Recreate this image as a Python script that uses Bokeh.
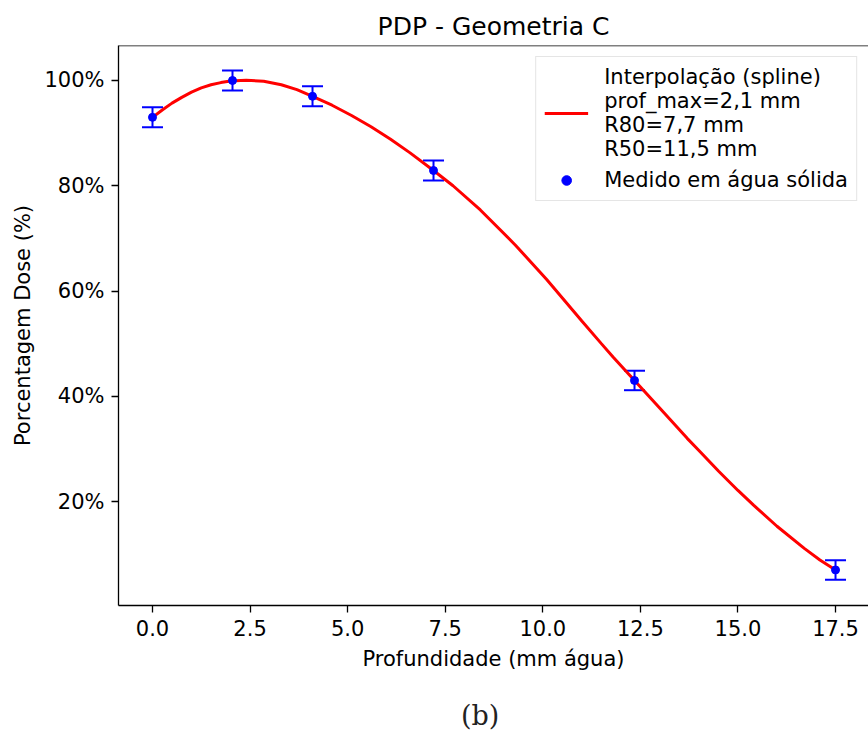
from bokeh.plotting import figure
from bokeh.layouts import column
from bokeh.models import (ColumnDataSource, Whisker, TeeHead, FixedTicker, Span, Div,
                          NumeralTickFormatter, Legend, LegendItem, Range1d)
from bokeh.embed import file_html
from bokeh.resources import INLINE

# measured points
depth_mm = [0.0, 2.05, 4.1, 7.2, 12.35, 17.5]
dose_pct = [93.0, 100.0, 97.0, 82.9, 43.0, 7.0]
dose_err = [1.9, 1.9, 1.9, 1.9, 1.85, 1.85]

# spline curve
curve_x = [0.0, 0.25, 0.5, 0.75, 1.0, 1.25, 1.5, 1.75, 2.0, 2.4, 2.85, 3.3, 3.7, 4.1,
           4.6, 5.1, 5.6, 6.1, 6.6, 7.2, 7.7, 8.4, 9.3, 10.1, 11.0, 11.5, 11.8, 12.35,
           13.0, 13.7, 14.0, 14.5, 15.0, 15.4, 16.0, 16.7, 17.1, 17.5]
curve_y = [93.0, 94.4, 95.7, 96.8, 97.8, 98.6, 99.2, 99.6, 99.9, 100.05, 99.84, 99.2, 98.27, 97.0,
           95.3, 93.35, 91.2, 88.85, 86.25, 82.9, 80.0, 75.4, 68.7, 62.2, 54.3, 50.0, 47.45, 43.0,
           37.7, 32.0, 29.7, 25.8, 22.1, 19.3, 15.3, 11.1, 8.9, 7.0]

x_ticks = [0.0, 2.5, 5.0, 7.5, 10.0, 12.5, 15.0, 17.5]
y_ticks = [20, 40, 60, 80, 100]
y_tick_labels = ["20%", "40%", "60%", "80%", "100%"]

FONT = "DejaVu Sans"
Y_TOP = 106.65

p = figure(width=868, height=697, output_backend="svg", toolbar_location=None,
           x_range=Range1d(-0.871, 18.345), y_range=Range1d(0.24, Y_TOP),
           min_border_left=118, min_border_right=0, min_border_top=45, min_border_bottom=92)
p.title.text = "PDP - Geometria C"
p.title.align = "center"
p.title.text_font = FONT
p.title.text_font_size = "25px"
p.title.text_font_style = "normal"
p.title.text_color = "black"

p.grid.visible = False
p.outline_line_color = None
p.background_fill_color = "white"
p.border_fill_color = "white"

p.add_layout(Span(location=Y_TOP, dimension="width", line_color="black", line_width=1.3))

for ax in (p.xaxis[0], p.yaxis[0]):
    ax.axis_line_color = "black"
    ax.axis_line_width = 1.3
    ax.major_tick_line_color = "black"
    ax.major_tick_line_width = 1.3
    ax.major_tick_out = 7
    ax.major_tick_in = 0
    ax.minor_tick_line_color = None
    ax.major_label_text_font = FONT
    ax.major_label_text_font_size = "21px"
    ax.major_label_text_color = "black"
    ax.major_label_standoff = 7
    ax.axis_label_text_font = FONT
    ax.axis_label_text_font_size = "21px"
    ax.axis_label_text_font_style = "normal"
    ax.axis_label_text_color = "black"

p.xaxis.ticker = FixedTicker(ticks=x_ticks)
p.xaxis.formatter = NumeralTickFormatter(format="0.0")
p.xaxis.axis_label = "Profundidade (mm água)"
p.xaxis.axis_label_standoff = 8
p.yaxis.ticker = FixedTicker(ticks=y_ticks)
p.yaxis.major_label_overrides = {t: l for t, l in zip(y_ticks, y_tick_labels)}
p.yaxis.axis_label = "Porcentagem Dose (%)"
p.yaxis.axis_label_standoff = 6

curve = p.line(curve_x, curve_y, line_color="red", line_width=3)

src = ColumnDataSource(dict(x=depth_mm, y=dose_pct,
                            lo=[v - e for v, e in zip(dose_pct, dose_err)],
                            hi=[v + e for v, e in zip(dose_pct, dose_err)]))
wh = Whisker(base="x", upper="hi", lower="lo", source=src, dimension="height",
             line_color="blue", line_width=2,
             upper_head=TeeHead(size=21, line_color="blue", line_width=2),
             lower_head=TeeHead(size=21, line_color="blue", line_width=2))
p.add_layout(wh)
pts = p.scatter("x", "y", source=src, size=8, color="blue")

legend = Legend(items=[
    LegendItem(label="Interpolação (spline)\nprof_max=2,1 mm\nR80=7,7 mm\nR50=11,5 mm", renderers=[curve]),
    LegendItem(label="Medido em água sólida", renderers=[pts]),
], location="top_right")
legend.label_text_font = FONT
legend.label_text_font_size = "21px"
legend.label_text_color = "black"
legend.label_text_line_height = 1.17
legend.glyph_width = 44
legend.glyph_height = 24
legend.label_standoff = 16
legend.padding = 8
legend.spacing = 7
legend.margin = 11
legend.border_line_color = "#cccccc"
legend.border_line_width = 1.3
legend.background_fill_alpha = 0.8
p.add_layout(legend)

caption = Div(text="(b)", width=868, height=34,
              styles={"font-family": "'DejaVu Serif', serif", "font-size": "27px",
                      "line-height": "28px", "color": "#222222", "padding-left": "456px",
                      "box-sizing": "border-box", "overflow": "visible"})

layout = column(p, caption, spacing=0)
open("out.html", "w").write(file_html(layout, INLINE))
